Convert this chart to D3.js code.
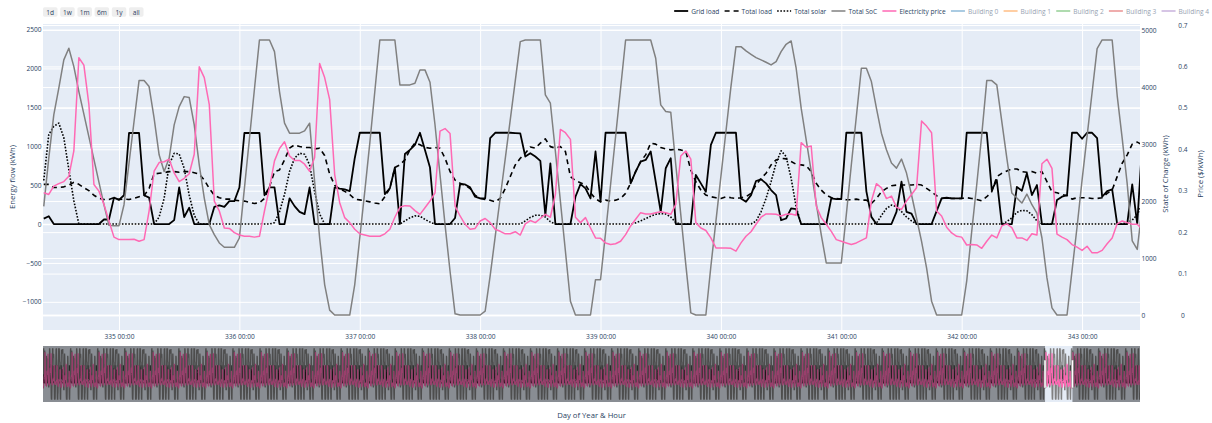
<!DOCTYPE html>
<html><head><meta charset="utf-8">
<script src="https://cdn.jsdelivr.net/npm/d3@7"></script>
<style>
body{margin:0;background:#fff}
svg{display:block}
text{font-family:"Open Sans",sans-serif;fill:#2a3f5f}
</style>
</head><body>
<svg id="chart" width="1212" height="423"></svg>
<script>
// ---------------- DATA ----------------
// hours after day 335 00:00, hourly, from -15 (day 334 09:00) to 204 (day 343 12:00)
const hourOffsets = d3.range(-15, 205);
const dayTicks = [335, 336, 337, 338, 339, 340, 341, 342, 343];

const gridLoad = [
  70,100,0,0,0,0,0,0,0,0,0,0,58,58,340,
  310,370,1170,1170,1170,370,340,0,0,0,0,50,470,90,210,0,0,0,0,220,240,220,295,295,
  470,1170,1170,1170,1170,370,470,470,0,0,330,230,157,127,470,0,0,0,0,470,456,445,424,846,
  1173,1173,1173,1173,1173,385,458,726,0,900,953,1017,1173,953,726,0,0,0,0,78,513,509,471,351,
  329,329,1105,1173,1173,1173,1173,1169,1165,868,911,868,812,114,780,0,0,0,0,351,513,458,329,932,
  286,1173,1173,1173,1173,1173,523,674,803,824,932,544,157,717,846,0,0,0,0,631,523,415,1018,1173,
  1173,1173,1173,1173,329,286,372,553,575,523,437,372,49,71,200,191,0,0,0,0,0,0,329,320,
  320,1173,1173,1173,1173,420,92,0,0,0,0,157,545,157,135,0,0,0,0,165,329,338,329,329,
  329,1173,1173,1173,1173,1173,436,566,0,0,0,478,428,652,372,501,0,0,0,308,351,372,1173,1173,
  1096,1173,1173,1105,351,424,445,0,0,0,510,0,1050
];
const totalLoad = [
  510,510,470,470,478,500,535,510,467,430,370,330,316,316,338,
  316,320,316,329,351,363,458,643,652,660,674,674,665,674,674,660,643,566,458,372,338,320,320,307,
  299,295,278,264,273,329,480,674,695,825,975,1018,996,983,983,966,975,880,640,500,450,420,380,320,
  310,300,285,270,260,350,460,726,760,825,955,1040,1020,985,975,985,975,845,675,565,525,500,456,370,
  330,315,305,285,330,455,610,760,845,910,990,975,1040,1095,995,975,995,932,609,558,532,502,400,325,
  286,307,295,307,329,394,523,674,803,889,1040,1027,983,966,953,962,953,932,695,544,437,372,351,338,
  329,351,338,329,338,351,394,502,588,652,760,824,846,837,803,768,760,751,674,523,437,372,342,329,
  320,312,312,320,307,307,264,329,415,458,493,501,501,501,501,510,501,458,415,364,329,338,329,329,
  329,338,329,316,299,351,415,609,652,682,708,708,674,665,674,652,674,545,415,402,381,364,320,338,
  338,338,329,329,338,394,437,609,781,889,1027,1053,1018
];
const totalSolar = [
  560,1150,1255,1298,1110,700,300,0,0,0,0,0,0,0,0,
  0,0,0,0,0,0,0,0,90,330,760,910,900,715,370,112,0,0,0,0,0,0,0,0,
  0,0,0,0,0,0,0,17,157,380,674,846,910,897,760,415,130,0,0,0,0,0,0,0,
  0,0,0,0,0,0,0,0,0,40,80,105,100,60,25,0,0,0,0,0,0,0,0,0,
  0,0,0,0,0,0,0,0,0,40,85,112,112,90,30,0,0,0,0,0,0,0,0,0,
  0,0,0,0,0,0,0,15,40,70,100,125,135,130,90,20,0,0,0,0,0,0,0,0,
  0,0,0,0,0,0,0,36,157,329,545,782,941,868,588,222,0,0,0,0,0,0,0,0,
  0,0,0,0,0,0,0,10,110,200,243,225,160,90,40,0,0,0,0,0,0,0,0,0,
  0,0,0,0,0,0,0,0,0,30,80,150,175,170,120,40,0,0,0,0,0,0,0,0,
  0,0,0,0,0,0,0,0,0,20,50,120,260
];
const totalSoC = [
  1906,2753,3511,3979,4475,4679,4358,3920,3523,3126,2729,2332,1935,1573,1567,
  1567,1935,2665,3394,4112,4112,4007,3453,2810,2519,2752,3336,3656,3831,3814,3336,2635,2052,1585,1410,1264,1188,1188,1188,
  1351,2221,3089,3961,4825,4825,4825,4621,3920,3365,3190,3190,3190,3231,3365,2343,1351,534,85,0,0,0,0,534,
  1351,2168,3015,3920,4825,4825,4825,4825,4037,4037,4037,4066,4300,4300,4084,3337,2461,1585,768,21,0,0,0,0,
  0,67,691,1374,2057,2740,3423,4107,4796,4825,4825,4825,4825,3861,3715,2869,1993,1118,242,0,0,0,0,620,
  620,1439,2285,3132,3978,4825,4825,4825,4825,4825,4825,4504,3686,3570,3558,2636,1761,885,38,0,0,0,856,1643,
  2431,3219,4007,4708,4708,4633,4574,4516,4475,4434,4388,4446,4621,4749,4808,4329,3628,3073,2519,1964,1410,914,914,914,
  914,1761,2636,3482,4329,4329,4095,3628,3190,2898,2665,2577,2735,2490,2110,1702,1293,826,242,0,0,0,0,0,
  0,593,1468,2285,3161,4112,4112,4037,3394,2752,2139,2052,1964,2122,1935,1789,1351,651,126,0,0,0,779,1544,
  2367,3138,3903,4673,4825,4825,4825,3850,3100,2300,1300,1150,1900
];
const elecPrice = [
  0.295,0.291,0.311,0.317,0.322,0.335,0.396,0.621,0.603,0.508,0.315,0.299,0.267,0.227,0.188,
  0.182,0.182,0.182,0.183,0.178,0.182,0.251,0.347,0.368,0.37,0.376,0.343,0.322,0.33,0.341,0.388,0.599,0.573,0.508,0.275,0.251,0.21,0.209,0.199,
  0.193,0.19,0.19,0.188,0.19,0.251,0.307,0.372,0.402,0.418,0.384,0.373,0.373,0.364,0.347,0.38,0.607,0.573,0.52,0.339,0.271,0.235,0.223,0.207,
  0.196,0.193,0.19,0.19,0.19,0.196,0.207,0.236,0.26,0.264,0.263,0.252,0.243,0.259,0.275,0.295,0.444,0.45,0.438,0.263,0.239,0.219,0.207,0.209,
  0.227,0.233,0.223,0.207,0.202,0.196,0.196,0.201,0.193,0.22,0.228,0.223,0.233,0.243,0.236,0.291,0.448,0.44,0.424,0.236,0.223,0.235,0.21,0.186,
  0.185,0.174,0.17,0.172,0.178,0.194,0.215,0.231,0.247,0.244,0.244,0.247,0.249,0.247,0.243,0.267,0.384,0.396,0.376,0.223,0.21,0.204,0.186,0.162,
  0.162,0.162,0.161,0.154,0.174,0.19,0.201,0.219,0.236,0.244,0.244,0.243,0.239,0.243,0.244,0.241,0.416,0.405,0.408,0.263,0.235,0.219,0.202,0.182,
  0.178,0.174,0.17,0.174,0.18,0.186,0.275,0.317,0.307,0.281,0.287,0.26,0.255,0.275,0.291,0.307,0.468,0.456,0.44,0.251,0.239,0.212,0.198,0.19,
  0.188,0.169,0.17,0.169,0.161,0.178,0.193,0.186,0.215,0.22,0.211,0.186,0.186,0.18,0.196,0.193,0.365,0.376,0.354,0.195,0.188,0.182,0.17,0.164,
  0.156,0.166,0.15,0.15,0.156,0.172,0.186,0.22,0.227,0.223,0.219,0.219,0.207
];
const seriesNames = ["Grid load","Total load","Total solar","Total SoC","Electricity price",
                     "Building 0","Building 1","Building 2","Building 3","Building 4"];
const rangeButtons = ["1d","1w","1m","6m","1y","all"];
const energyTicks = [-1000,-500,0,500,1000,1500,2000,2500];
const socTicks = [0,1000,2000,3000,4000,5000];
const priceTicks = [0,0.1,0.2,0.3,0.4,0.5,0.6,0.7];
const yearHours = 365*24;      // the range slider spans the whole year of hourly data
const windowStartHour = 334*24; // absolute hour of day 335 00:00

// ---------------- STYLES ----------------
const styles = [
  {color:"#000000", w:1.8, dash:null, op:1},
  {color:"#000000", w:1.6, dash:"5,4", op:1},
  {color:"#000000", w:1.6, dash:"1.6,1.6", op:1},
  {color:"#808080", w:1.5, dash:null, op:1},
  {color:"#ff69b4", w:1.5, dash:null, op:1},
  {color:"#1f77b4", w:1.5, dash:null, op:0.5},
  {color:"#ff7f0e", w:1.5, dash:null, op:0.5},
  {color:"#2ca02c", w:1.5, dash:null, op:0.5},
  {color:"#d62728", w:1.5, dash:null, op:0.5},
  {color:"#9467bd", w:1.5, dash:null, op:0.5}
];

// ---------------- LAYOUT ----------------
const svg = d3.select("#chart");
const P = {l:43, r:1140, t:24, b:330};
const S = {t:346, b:402};
const plotBg = "#e5ecf6";

const x = d3.scaleLinear().domain([-15.15, 203.55]).range([P.l, P.r]);
const yE = d3.scaleLinear().domain([-1362, 2571]).range([P.b, P.t]);
const yS = d3.scaleLinear().domain([-263, 5105]).range([P.b, P.t]);
const yP = d3.scaleLinear().domain([-0.0362, 0.7024]).range([P.b, P.t]);

svg.append("rect").attr("x",P.l).attr("y",P.t).attr("width",P.r-P.l).attr("height",P.b-P.t).attr("fill",plotBg);

// grids
function grid(axis, tx){
  const g = svg.append("g").attr("transform", tx).call(axis);
  g.select(".domain").remove();
  g.selectAll("text").remove();
  g.selectAll("line").attr("stroke","#fff").attr("stroke-width",1);
  return g;
}
const W = P.r-P.l, H = P.b-P.t;
grid(d3.axisBottom(x).tickValues(dayTicks.map(d=>(d-335)*24)).tickSize(-H), `translate(0,${P.b})`);
grid(d3.axisLeft(yE).tickValues(energyTicks).tickSize(-W), `translate(${P.l},0)`)
  .selectAll("line").attr("stroke-width", d=>d===0?1.6:1);
grid(d3.axisLeft(yS).tickValues(socTicks).tickSize(-W), `translate(${P.l},0)`)
  .selectAll("line").attr("stroke-width", d=>d===0?1.6:1);
grid(d3.axisLeft(yP).tickValues(priceTicks).tickSize(-W), `translate(${P.l},0)`)
  .selectAll("line").attr("stroke-width", d=>d===0?1.6:1);

// tick labels
function labels(axis, tx, anchor, dx){
  const g = svg.append("g").attr("transform", tx).call(axis);
  g.select(".domain").remove();
  g.selectAll("line").remove();
  g.selectAll("text").attr("fill","#2a3f5f").style("font-size","6.6px")
    .style("font-family",'"Open Sans",sans-serif');
  if(anchor) g.selectAll("text").attr("text-anchor",anchor).attr("x",dx);
  return g;
}
labels(d3.axisBottom(x).tickValues(dayTicks.map(d=>(d-335)*24)).tickSize(0).tickPadding(4)
  .tickFormat(t=>`${335+t/24} 00:00`), `translate(0,${P.b})`);
labels(d3.axisLeft(yE).tickValues(energyTicks).tickSize(0).tickFormat(d3.format("d")),
  `translate(${P.l-1.5},0)`, "end", 0);
labels(d3.axisRight(yS).tickValues(socTicks).tickSize(0).tickFormat(d3.format("d")),
  `translate(${P.r+1.5},0)`, "start", 0);
labels(d3.axisRight(yP).tickValues(priceTicks).tickSize(0).tickFormat(d=>d===0?"0":d3.format(".1f")(d)),
  `translate(${P.r+43},0)`, "middle", 0);

// axis titles
function title(txt, tx, rot){
  svg.append("text").attr("transform", tx + (rot?" rotate(-90)":""))
    .attr("text-anchor","middle").attr("dominant-baseline","central")
    .style("font-size","7.7px").text(txt);
}
title("Energy flow (kWh)", `translate(12,${(P.t+P.b)/2})`, true);
title("State of Charge (kWh)", `translate(1165,${(P.t+P.b)/2-3})`, true);
title("Price ($/kWh)", `translate(1200,${(P.t+P.b)/2-3})`, true);
title("Day of Year & Hour", `translate(${(P.l+P.r)/2},415)`, false);

// clip
const defs = svg.append("defs");
defs.append("clipPath").attr("id","clipMain").append("rect")
  .attr("x",P.l).attr("y",P.t).attr("width",W).attr("height",H);
defs.append("clipPath").attr("id","clipSlider").append("rect")
  .attr("x",P.l).attr("y",S.t).attr("width",W).attr("height",S.b-S.t);

const mainSeries = [
  {v:gridLoad, y:yE}, {v:totalLoad, y:yE}, {v:totalSolar, y:yE},
  {v:totalSoC, y:yS}, {v:elecPrice, y:yP}
];
const gMain = svg.append("g").attr("clip-path","url(#clipMain)");
mainSeries.forEach((s,k)=>{
  const st = styles[k];
  const line = d3.line().x((d,i)=>x(hourOffsets[i])).y(d=>s.y(d));
  gMain.append("path").attr("d", line(s.v)).attr("fill","none")
    .attr("stroke",st.color).attr("stroke-width",st.w)
    .attr("stroke-dasharray",st.dash).attr("stroke-linejoin","round");
});

// ---------------- RANGE SLIDER ----------------
const xs = d3.scaleLinear().domain([0, yearHours-1]).range([P.l, P.r]);
svg.append("rect").attr("x",P.l).attr("y",S.t).attr("width",W).attr("height",S.b-S.t).attr("fill",plotBg);
// The full-year values behind the minimap cannot be read; the read 9-day window
// (216 hourly values, whole days) stands in as the repeating pattern outside the window.
function sliderValues(arr){
  const n = 216;
  return d3.range(yearHours).map(h=>{
    let i = h - windowStartHour + 15;
    if(i < 0 || i >= arr.length) i = ((i % n) + n) % n;
    return arr[i];
  });
}
const gSl = svg.append("g").attr("clip-path","url(#clipSlider)");
mainSeries.forEach((s,k)=>{
  const st = styles[k];
  const ys = s.y.copy().range([S.b, S.t]);
  const line = d3.line().x((d,i)=>xs(i)).y(d=>ys(d));
  gSl.append("path").attr("d", line(sliderValues(s.v))).attr("fill","none")
    .attr("stroke",st.color).attr("stroke-width",st.w*0.8)
    .attr("stroke-dasharray",st.dash);
});
const w0 = xs(windowStartHour + x.domain()[0]), w1 = xs(windowStartHour + x.domain()[1]);
svg.append("rect").attr("x",P.l).attr("y",S.t).attr("width",w0-P.l).attr("height",S.b-S.t)
  .attr("fill","rgba(0,0,0,0.4)");
svg.append("rect").attr("x",w1).attr("y",S.t).attr("width",P.r-w1).attr("height",S.b-S.t)
  .attr("fill","rgba(0,0,0,0.4)");
[w0,w1].forEach(wx=>{
  svg.append("rect").attr("x",wx-1.1).attr("y",(S.t+S.b)/2-14).attr("width",2.2).attr("height",28)
    .attr("rx",0.6).attr("fill","#fff").attr("stroke","#666").attr("stroke-width",0.5);
});

// ---------------- RANGE SELECTOR ----------------
const gBtn = svg.append("g");
rangeButtons.forEach((b,i)=>{
  const bx = 43 + i*17.2;
  gBtn.append("rect").attr("x",bx).attr("y",7.3).attr("width",14.5).attr("height",9.4)
    .attr("rx",1.6).attr("fill","#eeeeee");
  gBtn.append("text").attr("x",bx+7.25).attr("y",12).attr("text-anchor","middle")
    .attr("dominant-baseline","central").style("font-size","6.6px").text(b);
});

// ---------------- LEGEND ----------------
const gLeg = svg.append("g");
const items = seriesNames.map((n,k)=>{
  const g = gLeg.append("g").attr("opacity", styles[k].op);
  g.append("line").attr("x1",0).attr("x2",14).attr("y1",0).attr("y2",0)
    .attr("stroke",styles[k].color).attr("stroke-width",styles[k].w)
    .attr("stroke-dasharray",styles[k].dash);
  const t = g.append("text").attr("x",17).attr("y",0).attr("dominant-baseline","central")
    .style("font-size","6.6px").text(n);
  return {g, w: 17 + t.node().getComputedTextLength()};
});
const gap = 5.2;
const total = d3.sum(items, d=>d.w) + gap*(items.length-1);
let lx = 1209 - total;
items.forEach(it=>{ it.g.attr("transform",`translate(${lx},11)`); lx += it.w + gap; });
</script>
</body></html>
